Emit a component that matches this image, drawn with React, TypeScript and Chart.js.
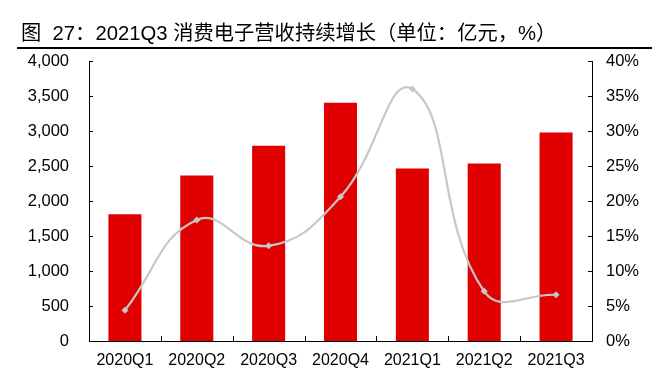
import React, { useEffect, useRef } from "react";
import { Chart, registerables } from "chart.js";

Chart.register(...registerables);

const categories = ["2020Q1", "2020Q2", "2020Q3", "2020Q4", "2021Q1", "2021Q2", "2021Q3"];
const revenue = [1810, 2365, 2790, 3405, 2465, 2535, 2980];
const growth = [4.4, 17.3, 13.6, 20.6, 36.0, 7.1, 6.6];
const leftTicks = [0, 500, 1000, 1500, 2000, 2500, 3000, 3500, 4000];
const rightTicks = [0, 5, 10, 15, 20, 25, 30, 35, 40];
const titleText = "图  27：2021Q3 消费电子营收持续增长（单位：亿元，%）";

const FONT = "'Liberation Sans', Arial, 'Noto Sans CJK SC', sans-serif";

const innerTicks = {
  id: "innerTicks",
  afterDraw(chart: any) {
    const ctx = chart.ctx;
    const { left, right, bottom } = chart.chartArea;
    const y = chart.scales.y;
    const y1 = chart.scales.y1;
    const x = chart.scales.x;
    ctx.save();
    ctx.strokeStyle = "#000";
    ctx.lineWidth = 1;
    ctx.beginPath();
    y.ticks.forEach((t: any) => {
      const p = Math.round(y.getPixelForValue(t.value)) + 0.5;
      ctx.moveTo(left, p);
      ctx.lineTo(left + 4, p);
    });
    y1.ticks.forEach((t: any) => {
      const p = Math.round(y1.getPixelForValue(t.value)) + 0.5;
      ctx.moveTo(right - 4, p);
      ctx.lineTo(right, p);
    });
    for (let i = 0; i < categories.length - 1; i++) {
      const p = Math.round((x.getPixelForValue(i) + x.getPixelForValue(i + 1)) / 2) + 0.5;
      ctx.moveTo(p, bottom);
      ctx.lineTo(p, bottom - 5);
    }
    ctx.stroke();
    ctx.restore();
  },
};

export default function App() {
  const ref = useRef<HTMLCanvasElement>(null);
  useEffect(() => {
    if (!ref.current) return;
    const chart = new Chart(ref.current, {
      type: "bar",
      data: {
        labels: categories,
        datasets: [
          {
            type: "line",
            data: growth,
            yAxisID: "y1",
            borderColor: "#c8c8c8",
            backgroundColor: "#c8c8c8",
            borderWidth: 2.2,
            pointStyle: "rectRot",
            pointRadius: 3.5,
            pointBackgroundColor: "#c8c8c8",
            pointBorderWidth: 0,
            tension: 0.45,
            order: 0,
          } as any,
          {
            type: "bar",
            data: revenue,
            yAxisID: "y",
            backgroundColor: "#e00000",
            categoryPercentage: 1,
            barPercentage: 0.46,
            order: 1,
          },
        ],
      },
      options: {
        responsive: false,
        animation: false,
        layout: { padding: { top: 61, left: 0, right: 0, bottom: 0 } },
        plugins: { legend: { display: false }, tooltip: { enabled: false } },
        scales: {
          x: {
            offset: true,
            grid: { display: false, drawTicks: false },
            border: { display: true, color: "#000", width: 1 },
            ticks: { color: "#000", font: { family: FONT, size: 16 }, padding: 10, maxRotation: 0 },
            afterFit(s: any) { s.height = 30; },
          },
          y: {
            position: "left",
            min: 0,
            max: 4000,
            afterBuildTicks(s: any) { s.ticks = leftTicks.map((v) => ({ value: v })); },
            grid: { display: false, drawTicks: false },
            border: { display: true, color: "#000", width: 1 },
            ticks: {
              color: "#000",
              font: { family: FONT, size: 16.5 },
              padding: 20,
              callback: (v: any) => Number(v).toLocaleString("en-US"),
            },
            afterFit(s: any) { s.width = 89; },
          },
          y1: {
            position: "right",
            min: 0,
            max: 40,
            afterBuildTicks(s: any) { s.ticks = rightTicks.map((v) => ({ value: v })); },
            grid: { display: false, drawTicks: false },
            border: { display: true, color: "#000", width: 1 },
            ticks: {
              color: "#000",
              font: { family: FONT, size: 16.5 },
              padding: 14,
              callback: (v: any) => v + "%",
            },
            afterFit(s: any) { s.width = 60; },
          },
        },
      },
      plugins: [innerTicks],
    });
    return () => chart.destroy();
  }, []);

  return (
    <div style={{ position: "fixed", left: 0, top: 0, width: 652, height: 371, background: "#fff", overflow: "hidden" }}>
      <canvas ref={ref} width={652} height={371} style={{ position: "absolute", left: 0, top: 0 }} />
      <div
        style={{
          position: "absolute",
          zIndex: 2,
          left: 21,
          top: 21,
          fontFamily: FONT,
          fontSize: 20.3,
          lineHeight: "24px",
          color: "#000",
          whiteSpace: "pre",
        }}
      >
        {titleText}
      </div>
      <div style={{ position: "absolute", zIndex: 2, left: 17, top: 47, width: 635, height: 2, background: "#000" }} />
    </div>
  );
}
